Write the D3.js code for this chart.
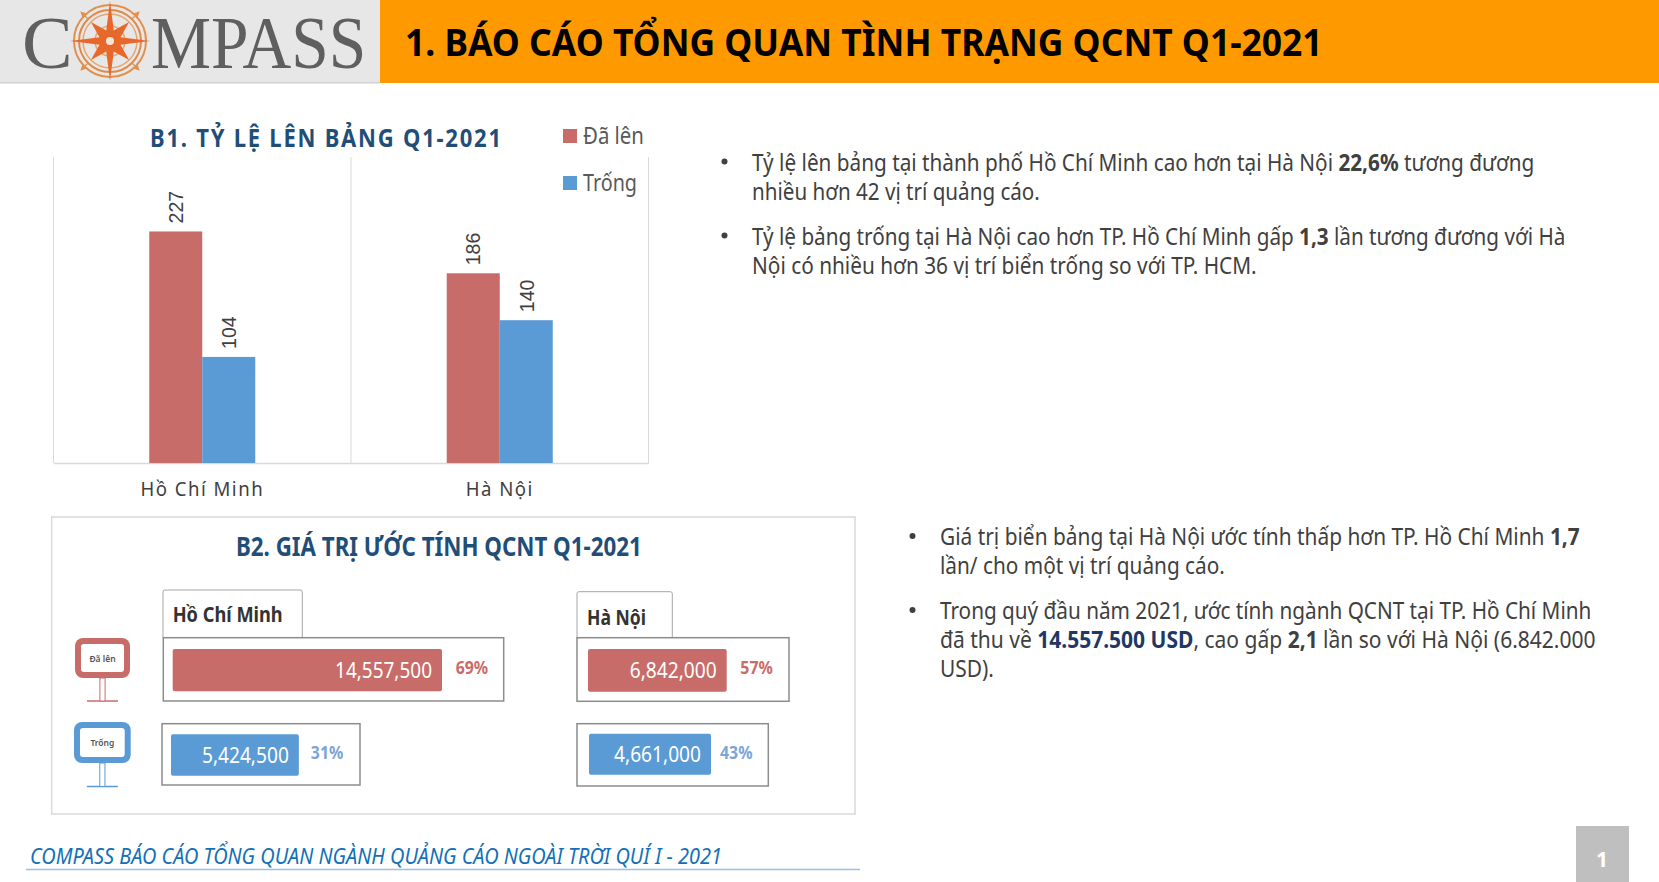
<!DOCTYPE html>
<html lang="vi">
<head>
<meta charset="utf-8">
<title>Báo cáo tổng quan QCNT Q1-2021</title>
<script src="https://cdn.jsdelivr.net/npm/d3@7"></script>
<style>
  html, body { margin: 0; padding: 0; background: #fff; overflow: hidden; }
  svg { display: block; }
  text { font-family: "Noto Sans", "Open Sans", sans-serif; }
</style>
</head>
<body>
<svg id="page"></svg>
<script>
// Data
const cities = ["Hồ Chí Minh", "Hà Nội"];
const seriesNames = ["Đã lên", "Trống"];
const boardCounts = [227, 186];   // Đã lên
const emptyCounts = [104, 140];   // Trống
const hcmValues = [14557500, 5424500];
const hnValues = [6842000, 4661000];
const hcmShares = ["69%", "31%"];
const hnShares = ["57%", "43%"];

const headerTitle = "1. BÁO CÁO TỔNG QUAN TÌNH TRẠNG QCNT Q1-2021";
const chartTitle1 = "B1. TỶ LỆ LÊN BẢNG Q1-2021";
const chartTitle2 = "B2. GIÁ TRỊ ƯỚC TÍNH QCNT Q1-2021";
const footerText = "COMPASS BÁO CÁO TỔNG QUAN NGÀNH QUẢNG CÁO NGOÀI TRỜI QUÍ I - 2021";

// text runs: [string, bold?, color?]
const notes = [
  { bullet: true, x: 752, y: 161.5, w: 783, runs: [["Tỷ lệ lên bảng tại thành phố Hồ Chí Minh cao hơn tại Hà Nội "], ["22,6%", 1], [" tương đương"]] },
  { x: 752, y: 190.5, w: 288, runs: [["nhiều hơn 42 vị trí quảng cáo."]] },
  { bullet: true, x: 752, y: 235.5, w: 814, runs: [["Tỷ lệ bảng trống tại Hà Nội cao hơn TP. Hồ Chí Minh gấp "], ["1,3", 1], [" lần tương đương với Hà"]] },
  { x: 752, y: 264.5, w: 505, runs: [["Nội có nhiều hơn 36 vị trí biển trống so với TP. HCM."]] },
  { bullet: true, x: 940, y: 536, w: 640, runs: [["Giá trị biển bảng tại Hà Nội ước tính thấp hơn TP. Hồ Chí Minh "], ["1,7", 1]] },
  { x: 940, y: 565, w: 285, runs: [["lần/ cho một vị trí quảng cáo."]] },
  { bullet: true, x: 940, y: 610, w: 652, runs: [["Trong quý đầu năm 2021, ước tính ngành QCNT tại TP. Hồ Chí Minh"]] },
  { x: 940, y: 638.5, w: 656, runs: [["đã thu về "], ["14.557.500 USD", 1, "#1f3864"], [", cao gấp "], ["2,1", 1], [" lần so với Hà Nội (6.842.000"]] },
  { x: 940, y: 668, w: 54, runs: [["USD)."]] }
];

const W = 1659, H = 882;
const RED = "#c86c6a", BLUE = "#5b9bd5", NAVY = "#1f4e79", GRID = "#d9d9d9";

const svg = d3.select("#page").attr("width", W).attr("height", H);

// Horizontal squeeze so a line takes the same width as the (narrower) original font
function fit(sel, x, width) {
  const len = sel.node().getComputedTextLength();
  const y = +sel.attr("data-y");
  sel.attr("transform", `translate(${x},${y}) scale(${width / len},1)`);
  return sel;
}

function label(str, x, cy, width, opts = {}) {
  const t = svg.append("text")
    .attr("data-y", cy)
    .attr("dominant-baseline", opts.baseline || "central")
    .attr("text-anchor", opts.anchor || null)
    .attr("font-size", opts.size || 23)
    .attr("font-weight", opts.bold ? 700 : 400)
    .attr("font-style", opts.italic ? "italic" : null)
    .attr("letter-spacing", opts.spacing || null)
    .attr("fill", opts.color || "#404040")
    .text(str);
  return fit(t, x, width);
}

// ---- Header ----
svg.append("rect").attr("width", 380).attr("height", 83).attr("fill", "#e7e7e7");
svg.append("rect").attr("y", 82).attr("width", 380).attr("height", 1.5).attr("fill", "#d2d2d2");
svg.append("rect").attr("x", 380).attr("width", W - 380).attr("height", 83).attr("fill", "#ff9900");
label(headerTitle, 405, 42, 918, { size: 37, bold: true, color: "#000" });

// Logo wordmark (baseline placed so the cap height sits at the original's 18..68)
const serif = "'Liberation Serif', serif";
label("C", 22, 68, 48, { size: 74, color: "#5f5f5f", baseline: "alphabetic" }).style("font-family", serif);
label("MPASS", 151, 68, 216, { size: 74, color: "#5f5f5f", baseline: "alphabetic" }).style("font-family", serif);

// Logo compass
const compass = svg.append("g").attr("transform", "translate(110,41)");
compass.append("circle").attr("r", 36).attr("fill", "#e7e7e7").attr("stroke", "#e0904f").attr("stroke-width", 2);
compass.append("circle").attr("r", 31).attr("fill", "none").attr("stroke", "#e08a4a").attr("stroke-width", 2);
compass.append("circle").attr("r", 27).attr("fill", "none").attr("stroke", "#e8a66f").attr("stroke-width", 1.5);
compass.append("circle").attr("r", 15).attr("fill", "none").attr("stroke", "#e8a66f").attr("stroke-width", 1.5);
// small diagonal arrows outside the rings
compass.selectAll("path.tick").data([45, 135, 225, 315]).join("path")
  .attr("class", "tick")
  .attr("fill", "#e0904f")
  .attr("d", "M0,-42L3,-36L0.6,-36L0.6,-30L-0.6,-30L-0.6,-36L-3,-36Z")
  .attr("transform", d => `rotate(${d})`);
const starRays = [[45, 27, 6], [135, 27, 6], [225, 27, 6], [315, 27, 6], [0, 40, 4.5], [90, 40, 4.5], [180, 40, 4.5], [270, 40, 4.5]];
compass.selectAll("path.ray").data(starRays).join("path")
  .attr("class", "ray")
  .attr("fill", "#e8682c")
  .attr("d", d => `M0,${-d[1]}L${d[2]},-${d[2]}L0,0L-${d[2]},-${d[2]}Z`)
  .attr("transform", d => `rotate(${d[0]})`);
compass.append("circle").attr("r", 4).attr("fill", "#f3e4d8");

// ---- B1: grouped bars ----
const plot = { left: 53.5, right: 648.5, top: 157, bottom: 463 };
const x0 = d3.scaleBand().domain(cities).range([plot.left, plot.right]);
const x1 = d3.scaleBand().domain(seriesNames).range([0, x0.bandwidth()]).paddingInner(0).paddingOuter(1.806);
const y = d3.scaleLinear().domain([0, 300]).range([plot.bottom, plot.top]);

// frame: separators between categories
const edges = [plot.left, x0(cities[1]), plot.right];
svg.selectAll("line.sep").data(edges).join("line")
  .attr("class", "sep")
  .attr("x1", d => d).attr("x2", d => d)
  .attr("y1", plot.top).attr("y2", plot.bottom)
  .attr("stroke", GRID).attr("stroke-width", 1);

const xAxis = svg.append("g")
  .attr("transform", `translate(0,${plot.bottom})`)
  .call(d3.axisBottom(x0).tickSize(0).tickPadding(18));
xAxis.select(".domain").attr("stroke", GRID).attr("stroke-width", 1.5);
xAxis.selectAll("text")
  .style("font-family", "'Noto Sans', sans-serif")
  .attr("font-size", 20)
  .attr("letter-spacing", 1.6)
  .attr("fill", "#404040")
  .attr("transform", "scale(0.93,1.04)");

const groups = svg.selectAll("g.city").data(cities).join("g")
  .attr("class", "city")
  .attr("transform", d => `translate(${x0(d)},0)`);

const counts = [boardCounts, emptyCounts];
seriesNames.forEach((name, s) => {
  const color = s === 0 ? RED : BLUE;
  groups.append("rect")
    .attr("x", x1(name))
    .attr("width", x1.bandwidth())
    .attr("y", (d, i) => y(counts[s][i]))
    .attr("height", (d, i) => plot.bottom - y(counts[s][i]))
    .attr("fill", color);
  groups.append("text")
    .attr("transform", (d, i) => `translate(${x1(name) + x1.bandwidth() / 2},${y(counts[s][i]) - 8}) rotate(-90) scale(0.93,1)`)
    .attr("dominant-baseline", "central")
    .style("font-family", "'Liberation Sans', sans-serif")
    .attr("font-size", 21)
    .attr("fill", "#404040")
    .text((d, i) => counts[s][i]);
});

label(chartTitle1, 150, 137, 353, { size: 25, bold: true, color: NAVY, spacing: 2 });

// legend
seriesNames.forEach((name, s) => {
  const cy = s === 0 ? 135 : 182;
  svg.append("rect").attr("x", 563).attr("y", (s === 0 ? 136 : 183) - 7).attr("width", 14).attr("height", 14)
    .attr("fill", s === 0 ? RED : BLUE);
  label(name, 583, cy, s === 0 ? 61 : 54, { size: 23, color: "#595959" });
});

// ---- B2: value panel ----
svg.append("rect").attr("x", 51.7).attr("y", 517).attr("width", 803.3).attr("height", 297)
  .attr("fill", "#fff").attr("stroke", GRID).attr("stroke-width", 1.5);
label(chartTitle2, 236, 546, 406, { size: 26, bold: true, color: NAVY });

// the bars in the original are not proportional, so the value scale has a bend in it
const allValues = hcmValues.concat(hnValues);
const barW = d3.scaleLinear()
  .domain([d3.min(allValues), hnValues[0], d3.max(allValues)])
  .range([122, 138.7, 269.3]);
const fmt = d3.format(",");

const panels = [
  { name: cities[0], values: hcmValues, shares: hcmShares, tabX: 163, tabW: 139.3, tabY: 590, textX: 172.7, textW: 110, textY: 613.5,
    rows: [{ bx: 163.3, by: 637.7, bh: 63.3, x: 172.7, y: 649, h: 42.3, boxW: 340.4, gap: 13.7, lift: 2 }, { bx: 162, by: 723.7, bh: 61.3, x: 171, y: 734.3, h: 41.4, boxW: 198, gap: 12, lift: 2 }] },
  { name: cities[1], values: hnValues, shares: hnShares, tabX: 577, tabW: 95.3, tabY: 591.7, textX: 587, textW: 59, textY: 616.5,
    rows: [{ bx: 577, by: 637.7, bh: 63.6, x: 588, y: 649, h: 42.7, boxW: 212, gap: 13.6, lift: 3 }, { bx: 577, by: 723.7, bh: 62.3, x: 589, y: 733.7, h: 41, boxW: 191.3, gap: 9, lift: 2 }] }
];

panels.forEach(p => {
  svg.append("path")
    .attr("d", `M${p.tabX},637.7V${p.tabY + 2}q0,-2 2,-2H${p.tabX + p.tabW - 2}q2,0 2,2V637.7`)
    .attr("fill", "none").attr("stroke", "#a6a6a6").attr("stroke-width", 1);
  label(p.name, p.textX, p.textY, p.textW, { size: 21, bold: true, color: "#333" });

  p.rows.forEach((r, i) => {
    const w = barW(p.values[i]);
    const color = i === 0 ? RED : BLUE;
    const shareColor = i === 0 ? RED : "#7ba5d6";
    svg.append("rect").attr("x", r.bx).attr("y", r.by).attr("width", r.boxW).attr("height", r.bh)
      .attr("fill", "#fff").attr("stroke", "#8c8c8c").attr("stroke-width", 1.5);
    svg.append("rect").attr("x", r.x).attr("y", r.y).attr("width", w).attr("height", r.h).attr("rx", 2)
      .attr("fill", color);
    const val = fmt(p.values[i]);
    const vw = val.length > 9 ? 97 : 87;
    label(val, r.x + w - 10, r.y + r.h / 2 - 1, vw, { size: 22, color: "#fff", anchor: "end" });
    label(p.shares[i], r.x + w + r.gap, r.y + r.h / 2 - r.lift - 0.5, 32.5, { size: 17.5, bold: true, color: shareColor });
  });
});

// little billboard icons
const signs = [
  { name: seriesNames[0], color: RED, x: 75, y: 638, w: 55, h: 40, base: 701 },
  { name: seriesNames[1], color: BLUE, x: 74, y: 722, w: 56.7, h: 41, base: 786.5 }
];
signs.forEach(s => {
  const cx = s.x + s.w / 2;
  svg.append("line").attr("x1", cx - 15.5).attr("x2", cx + 15.5).attr("y1", s.base).attr("y2", s.base)
    .attr("stroke", s.color).attr("stroke-width", 1.5);
  svg.append("rect").attr("x", cx - 2.6).attr("y", s.y + s.h).attr("width", 5.2).attr("height", s.base - s.y - s.h)
    .attr("fill", "#fff").attr("stroke", s.color).attr("stroke-width", 1);
  svg.append("rect").attr("x", s.x).attr("y", s.y).attr("width", s.w).attr("height", s.h).attr("rx", 8)
    .attr("fill", s.color);
  svg.append("rect").attr("x", s.x + 6).attr("y", s.y + 6).attr("width", s.w - 12).attr("height", s.h - 12).attr("rx", 3)
    .attr("fill", "#fff");
  svg.append("text").attr("x", cx).attr("y", s.y + s.h / 2)
    .attr("text-anchor", "middle").attr("dominant-baseline", "central")
    .attr("font-size", 8.5).attr("font-weight", 600).attr("fill", "#555")
    .text(s.name);
});

// ---- Notes on the right ----
notes.forEach(n => {
  if (n.bullet) {
    svg.append("circle").attr("cx", n.x - 27.5).attr("cy", n.y).attr("r", 3).attr("fill", "#404040");
  }
  const t = svg.append("text")
    .attr("data-y", n.y)
    .attr("dominant-baseline", "central")
    .attr("font-size", 23)
    .attr("fill", "#404040");
  n.runs.forEach(r => {
    t.append("tspan")
      .attr("font-weight", r[1] ? 700 : 400)
      .attr("fill", r[2] || null)
      .text(r[0]);
  });
  fit(t, n.x, n.w);
});

// ---- Footer ----
label(footerText, 30, 856, 692, { size: 21, italic: true, color: "#1270b8" });
svg.append("line").attr("x1", 26).attr("x2", 860).attr("y1", 869.5).attr("y2", 869.5)
  .attr("stroke", "#9dc0de").attr("stroke-width", 1.5);
svg.append("rect").attr("x", 1576).attr("y", 826).attr("width", 53).attr("height", H - 826).attr("fill", "#bfbfbf");
svg.append("text").attr("x", 1602).attr("y", 859)
  .attr("text-anchor", "middle").attr("dominant-baseline", "central")
  .attr("font-size", 21).attr("font-weight", 700).attr("fill", "#fff").text("1");
</script>
</body>
</html>
